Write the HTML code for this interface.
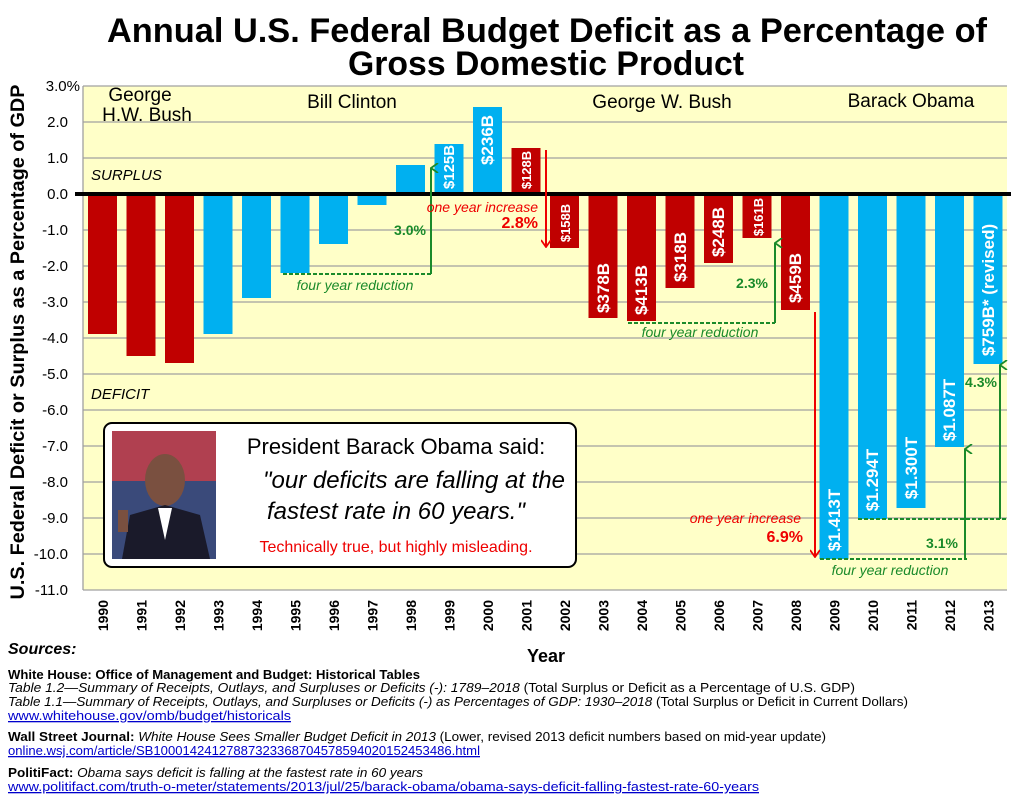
<!DOCTYPE html>
<html><head><meta charset="utf-8"><style>body{margin:0;background:#fff}svg{display:block}</style></head><body>
<svg width="1013" height="796" viewBox="0 0 1013 796" font-family="Liberation Sans, sans-serif">
<defs>
<marker id="ag" markerWidth="10" markerHeight="10" refX="5" refY="1" orient="auto-start-reverse" markerUnits="userSpaceOnUse"><path d="M0,8 L5,1 L10,8" fill="none" stroke="#1a8a2a" stroke-width="1.8"/></marker>
<marker id="ar" markerWidth="10" markerHeight="10" refX="5" refY="9" orient="0" markerUnits="userSpaceOnUse"><path d="M0,2 L5,9 L10,2" fill="none" stroke="#e00" stroke-width="1.8"/></marker>
</defs>
<text x="547" y="42" text-anchor="middle" font-size="34" font-weight="bold" textLength="880" lengthAdjust="spacingAndGlyphs">Annual U.S. Federal Budget Deficit as a Percentage of</text>
<text x="546" y="75" text-anchor="middle" font-size="34" font-weight="bold" textLength="396" lengthAdjust="spacingAndGlyphs">Gross Domestic Product</text>
<rect x="83" y="86" width="924" height="504" fill="#ffffc8"/>
<g stroke="#a0a0a0" stroke-width="1.3">
<line x1="83" y1="86" x2="1007" y2="86"/><line x1="83" y1="122" x2="1007" y2="122"/><line x1="83" y1="158" x2="1007" y2="158"/>
<line x1="83" y1="230" x2="1007" y2="230"/><line x1="83" y1="266" x2="1007" y2="266"/><line x1="83" y1="302" x2="1007" y2="302"/>
<line x1="83" y1="338" x2="1007" y2="338"/><line x1="83" y1="374" x2="1007" y2="374"/><line x1="83" y1="410" x2="1007" y2="410"/>
<line x1="83" y1="446" x2="1007" y2="446"/><line x1="83" y1="482" x2="1007" y2="482"/><line x1="83" y1="518" x2="1007" y2="518"/>
<line x1="83" y1="554" x2="1007" y2="554"/><line x1="83" y1="590" x2="1007" y2="590"/>
<line x1="83" y1="86" x2="83" y2="590"/>
</g>
<g font-size="15" text-anchor="end">
<text x="80" y="91">3.0%</text><text x="68" y="127">2.0</text><text x="68" y="163">1.0</text><text x="68" y="199">0.0</text>
<text x="68" y="235">-1.0</text><text x="68" y="271">-2.0</text><text x="68" y="307">-3.0</text><text x="68" y="343">-4.0</text>
<text x="68" y="379">-5.0</text><text x="68" y="415">-6.0</text><text x="68" y="451">-7.0</text><text x="68" y="487">-8.0</text>
<text x="68" y="523">-9.0</text><text x="68" y="559">-10.0</text><text x="68" y="595">-11.0</text>
</g>
<text transform="translate(24,342) rotate(-90)" text-anchor="middle" font-size="19" font-weight="bold" textLength="515" lengthAdjust="spacingAndGlyphs">U.S. Federal Deficit or Surplus as a Percentage of GDP</text>
<g>
<rect x="88" y="194" width="29" height="140" fill="#c00000"/>
<rect x="126.5" y="194" width="29" height="162" fill="#c00000"/>
<rect x="165" y="194" width="29" height="169" fill="#c00000"/>
<rect x="203.5" y="194" width="29" height="140" fill="#00b0f0"/>
<rect x="242" y="194" width="29" height="104" fill="#00b0f0"/>
<rect x="280.5" y="194" width="29" height="79" fill="#00b0f0"/>
<rect x="319" y="194" width="29" height="50" fill="#00b0f0"/>
<rect x="357.5" y="194" width="29" height="11" fill="#00b0f0"/>
<rect x="396" y="165" width="29" height="29" fill="#00b0f0"/>
<rect x="434.5" y="144" width="29" height="50" fill="#00b0f0"/>
<rect x="473" y="107" width="29" height="87" fill="#00b0f0"/>
<rect x="511.5" y="148" width="29" height="46" fill="#c00000"/>
<rect x="550" y="194" width="29" height="54" fill="#c00000"/>
<rect x="588.5" y="194" width="29" height="124" fill="#c00000"/>
<rect x="627" y="194" width="29" height="127" fill="#c00000"/>
<rect x="665.5" y="194" width="29" height="94" fill="#c00000"/>
<rect x="704" y="194" width="29" height="69" fill="#c00000"/>
<rect x="742.5" y="194" width="29" height="44" fill="#c00000"/>
<rect x="781" y="194" width="29" height="116" fill="#c00000"/>
<rect x="819.5" y="194" width="29" height="365" fill="#00b0f0"/>
<rect x="858" y="194" width="29" height="325" fill="#00b0f0"/>
<rect x="896.5" y="194" width="29" height="314" fill="#00b0f0"/>
<rect x="935" y="194" width="29" height="253" fill="#00b0f0"/>
<rect x="973.5" y="194" width="29" height="170" fill="#00b0f0"/>
</g>
<line x1="75" y1="194" x2="1011" y2="194" stroke="#000" stroke-width="4"/>
<g fill="#fff" font-weight="bold" font-size="15" text-anchor="middle">
<text transform="translate(454,167) rotate(-90)">$125B</text>
<text transform="translate(493,140) rotate(-90)" font-size="17">$236B</text>
<text transform="translate(531,170) rotate(-90)" font-size="13">$128B</text>
<text transform="translate(570,223) rotate(-90)" font-size="13">$158B</text>
<text transform="translate(609,288) rotate(-90)" font-size="17">$378B</text>
<text transform="translate(647,290) rotate(-90)" font-size="17">$413B</text>
<text transform="translate(686,257) rotate(-90)" font-size="17">$318B</text>
<text transform="translate(724,232) rotate(-90)" font-size="17">$248B</text>
<text transform="translate(763,217) rotate(-90)" font-size="13">$161B</text>
<text transform="translate(801,278) rotate(-90)" font-size="17">$459B</text>
<text transform="translate(840,520) rotate(-90)" font-size="17">$1.413T</text>
<text transform="translate(878,480) rotate(-90)" font-size="17">$1.294T</text>
<text transform="translate(917,468) rotate(-90)" font-size="17">$1.300T</text>
<text transform="translate(955,410) rotate(-90)" font-size="17">$1.087T</text>
<text transform="translate(994,290) rotate(-90)" font-size="17">$759B* (revised)</text>
</g>
<g font-size="19">
<text x="140" y="101" text-anchor="middle">George</text>
<text x="147" y="121" text-anchor="middle">H.W. Bush</text>
<text x="352" y="108" text-anchor="middle">Bill Clinton</text>
<text x="662" y="108" text-anchor="middle">George W. Bush</text>
<text x="911" y="107" text-anchor="middle">Barack Obama</text>
</g>
<text x="91" y="180" font-size="15" font-style="italic">SURPLUS</text>
<text x="91" y="399" font-size="15" font-style="italic">DEFICIT</text>
<g stroke="#1a8a2a" stroke-width="2" fill="none">
<line x1="283" y1="274" x2="431" y2="274" stroke-dasharray="4,2"/>
<line x1="431" y1="274" x2="431" y2="168" marker-end="url(#ag)"/>
<line x1="628" y1="323" x2="775" y2="323" stroke-dasharray="4,2"/>
<line x1="775" y1="323" x2="775" y2="243" marker-end="url(#ag)"/>
<line x1="820" y1="559" x2="967" y2="559" stroke-dasharray="4,2"/>
<line x1="965" y1="559" x2="965" y2="449" marker-end="url(#ag)"/>
<line x1="858" y1="519" x2="1007" y2="519" stroke-dasharray="4,2"/>
<line x1="1000" y1="519" x2="1000" y2="365" marker-end="url(#ag)"/>
</g>
<g stroke="#e00" stroke-width="2" fill="none">
<line x1="546" y1="150" x2="546" y2="247" marker-end="url(#ar)"/>
<line x1="815" y1="312" x2="815" y2="557" marker-end="url(#ar)"/>
</g>
<g fill="#1a8a2a">
<text x="410" y="235" font-size="14" font-weight="bold" text-anchor="middle">3.0%</text>
<text x="355" y="290" font-size="14" font-style="italic" text-anchor="middle">four year reduction</text>
<text x="752" y="288" font-size="14" font-weight="bold" text-anchor="middle">2.3%</text>
<text x="700" y="337" font-size="14" font-style="italic" text-anchor="middle">four year reduction</text>
<text x="942" y="548" font-size="14" font-weight="bold" text-anchor="middle">3.1%</text>
<text x="890" y="575" font-size="14" font-style="italic" text-anchor="middle">four year reduction</text>
<text x="981" y="387" font-size="14" font-weight="bold" text-anchor="middle">4.3%</text>
</g>
<g fill="#e00" text-anchor="end">
<text x="538" y="212" font-size="14" font-style="italic">one year increase</text>
<text x="538" y="228" font-size="16" font-weight="bold">2.8%</text>
<text x="801" y="523" font-size="14" font-style="italic">one year increase</text>
<text x="803" y="542" font-size="16" font-weight="bold">6.9%</text>
</g>
<rect x="104" y="423" width="472" height="144" rx="8" fill="#fff" stroke="#000" stroke-width="2"/>
<rect x="112" y="431" width="104" height="128" fill="#3a4a7a"/>
<rect x="112" y="431" width="104" height="50" fill="#b04050"/>
<ellipse cx="165" cy="480" rx="20" ry="26" fill="#7a5040"/>
<path d="M122,559 L130,515 L165,505 L200,515 L210,559 Z" fill="#1a1a2a"/>
<path d="M158,508 L165,540 L172,508 Z" fill="#fff"/>
<rect x="118" y="510" width="10" height="22" fill="#7a5040"/>
<text x="396" y="454" text-anchor="middle" font-size="22">President Barack Obama said:</text>
<text x="414" y="488" text-anchor="middle" font-size="24" font-style="italic">"our deficits are falling at the</text>
<text x="396" y="519" text-anchor="middle" font-size="24" font-style="italic">fastest rate in 60 years."</text>
<text x="396" y="552" text-anchor="middle" font-size="16" fill="#e00">Technically true, but highly misleading.</text>
<g font-size="14" font-weight="bold" text-anchor="end">
<text transform="translate(108,600) rotate(-90)">1990</text>
<text transform="translate(146.5,600) rotate(-90)">1991</text>
<text transform="translate(185,600) rotate(-90)">1992</text>
<text transform="translate(223.5,600) rotate(-90)">1993</text>
<text transform="translate(262,600) rotate(-90)">1994</text>
<text transform="translate(300.5,600) rotate(-90)">1995</text>
<text transform="translate(339,600) rotate(-90)">1996</text>
<text transform="translate(377.5,600) rotate(-90)">1997</text>
<text transform="translate(416,600) rotate(-90)">1998</text>
<text transform="translate(454.5,600) rotate(-90)">1999</text>
<text transform="translate(493,600) rotate(-90)">2000</text>
<text transform="translate(531.5,600) rotate(-90)">2001</text>
<text transform="translate(570,600) rotate(-90)">2002</text>
<text transform="translate(608.5,600) rotate(-90)">2003</text>
<text transform="translate(647,600) rotate(-90)">2004</text>
<text transform="translate(685.5,600) rotate(-90)">2005</text>
<text transform="translate(724,600) rotate(-90)">2006</text>
<text transform="translate(762.5,600) rotate(-90)">2007</text>
<text transform="translate(801,600) rotate(-90)">2008</text>
<text transform="translate(839.5,600) rotate(-90)">2009</text>
<text transform="translate(878,600) rotate(-90)">2010</text>
<text transform="translate(916.5,600) rotate(-90)">2011</text>
<text transform="translate(955,600) rotate(-90)">2012</text>
<text transform="translate(993.5,600) rotate(-90)">2013</text>
</g>
<text x="546" y="662" text-anchor="middle" font-size="18" font-weight="bold">Year</text>
<text x="8" y="654" font-size="16" font-weight="bold" font-style="italic">Sources:</text>
<g font-size="13">
<text x="8" y="679" font-weight="bold" textLength="412" lengthAdjust="spacingAndGlyphs">White House: Office of Management and Budget: Historical Tables</text>
<text x="8" y="692" textLength="847" lengthAdjust="spacingAndGlyphs"><tspan font-style="italic">Table 1.2—Summary of Receipts, Outlays, and Surpluses or Deficits (-): 1789–2018</tspan> (Total Surplus or Deficit as a Percentage of U.S. GDP)</text>
<text x="8" y="706" textLength="900" lengthAdjust="spacingAndGlyphs"><tspan font-style="italic">Table 1.1—Summary of Receipts, Outlays, and Surpluses or Deficits (-) as Percentages of GDP: 1930–2018</tspan> (Total Surplus or Deficit in Current Dollars)</text>
<text x="8" y="720" fill="#00c" text-decoration="underline" textLength="283" lengthAdjust="spacingAndGlyphs">www.whitehouse.gov/omb/budget/historicals</text>
<text x="8" y="741" textLength="818" lengthAdjust="spacingAndGlyphs"><tspan font-weight="bold">Wall Street Journal:</tspan> <tspan font-style="italic">White House Sees Smaller Budget Deficit in 2013</tspan> (Lower, revised 2013 deficit numbers based on mid-year update)</text>
<text x="8" y="755" fill="#00c" text-decoration="underline" textLength="472" lengthAdjust="spacingAndGlyphs">online.wsj.com/article/SB10001424127887323368704578594020152453486.html</text>
<text x="8" y="777" textLength="415" lengthAdjust="spacingAndGlyphs"><tspan font-weight="bold">PolitiFact:</tspan> <tspan font-style="italic">Obama says deficit is falling at the fastest rate in 60 years</tspan></text>
<text x="8" y="791" fill="#00c" text-decoration="underline" textLength="751" lengthAdjust="spacingAndGlyphs">www.politifact.com/truth-o-meter/statements/2013/jul/25/barack-obama/obama-says-deficit-falling-fastest-rate-60-years</text>
</g>
</svg>
</body></html>
